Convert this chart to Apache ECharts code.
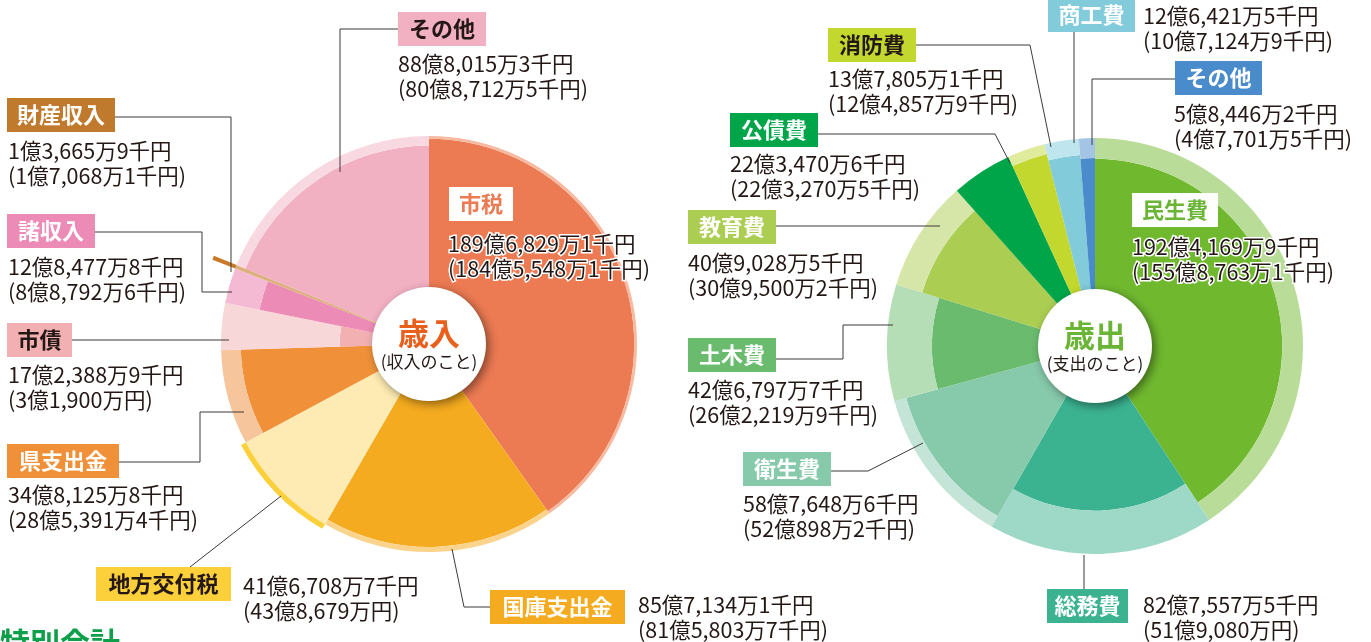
<!DOCTYPE html>
<html>
<head>
<meta charset="utf-8">
<script src="https://cdn.jsdelivr.net/npm/echarts@6/dist/echarts.min.js"></script>
<style>
html,body{margin:0;padding:0;background:#fff}
#main{width:1371px;height:642px}
</style>
</head>
<body>
<div id="main"></div>
<script>
var FONT = '"Noto Sans CJK JP", "Noto Sans", sans-serif';

// 歳入 (千円) 今年度 / 前年度
var revNames = ['市税', '国庫支出金', '地方交付税', '県支出金', '市債', '諸収入', '財産収入', 'その他'];
var revCur = [18968291, 8571341, 4167087, 3481258, 1723889, 1284778, 136659, 8880153];
var revPrev = [18455481, 8158037, 4386790, 2853914, 319000, 887926, 170681, 8087125];

// 歳出 (千円) 今年度 / 前年度
var expNames = ['民生費', '総務費', '衛生費', '土木費', '教育費', '公債費', '消防費', '商工費', 'その他'];
var expCur = [19241699, 8275575, 5876486, 4267977, 4090285, 2234706, 1378051, 1264215, 584462];
var expPrev = [15587631, 5190800, 5208982, 2622199, 3095002, 2232705, 1248579, 1071249, 477015];

// colours
var revDark = ['#ec7a53', '#f5ab1f', '#fcd03a', '#f0913a', '#f2b0b3', '#ec8bb5', '#c87a2a', '#f2b0c3'];
var revLight = ['#f6baa1', '#fad38d', '#fdebb3', '#f6c59b', '#f8d7d8', '#f4b9d3', '#dcb07a', '#f8d8e1'];
var expDark = ['#70b92f', '#3bb391', '#87c9ab', '#6abb6e', '#aacd52', '#00a54a', '#c3d82e', '#82cbda', '#4a8bcb'];
var expLight = ['#b9dd99', '#9ed8c6', '#c3e4d6', '#b5ddb6', '#d5e6a8', '#6cc08a', '#e0eb9b', '#bfe5ee', '#a4c4e6'];

// label layout
var revTags = [
  {box: [449, 187, 64], bg: '#fff', fg: '#ec7a53', val: [448, 243], halo: true},
  {box: [490, 590, 135], bg: '#f5ab1f', fg: '#fff', val: [638, 604], line: [[490, 607], [464, 607], [452, 549]]},
  {box: [96, 567, 135], bg: '#fcd03a', fg: '#231815', val: [243, 585], line: [[190, 567], [281, 496]]},
  {box: [7, 444, 112], bg: '#f0913a', fg: '#fff', val: [8, 494], line: [[119, 462], [200, 462], [200, 412], [244, 412]]},
  {box: [7, 323, 65], bg: '#f2b0b3', fg: '#231815', val: [8, 374], line: [[72, 340], [229, 340]]},
  {box: [7, 214, 88], bg: '#ec8bb5', fg: '#fff', val: [8, 266], line: [[95, 232], [202, 232], [202, 292], [232, 292]]},
  {box: [7, 98, 108], bg: '#c07a2e', fg: '#fff', val: [8, 150], line: [[115, 117], [231, 117], [231, 272]]},
  {box: [398, 12, 88], bg: '#f2b0c3', fg: '#231815', val: [398, 63], line: [[398, 29], [340, 29], [340, 172]]}
];
var expTags = [
  {box: [1132, 193, 86], bg: '#fff', fg: '#6bb536', val: [1132, 246], halo: true},
  {box: [1047, 589, 81], bg: '#3bb391', fg: '#fff', val: [1143, 604], line: [[1084, 555], [1084, 589]]},
  {box: [743, 452, 88], bg: '#87c9ab', fg: '#fff', val: [743, 503], line: [[831, 471], [868, 471], [923, 443]]},
  {box: [688, 338, 88], bg: '#6abb6e', fg: '#fff', val: [688, 389], line: [[776, 359], [843, 359], [843, 325], [893, 325]]},
  {box: [688, 210, 88], bg: '#aacd52', fg: '#fff', val: [688, 262], line: [[776, 226], [940, 226]]},
  {box: [730, 113, 88], bg: '#00a54a', fg: '#fff', val: [730, 163], line: [[818, 134], [995, 134], [1010, 163]]},
  {box: [828, 28, 88], bg: '#c3d82e', fg: '#231815', val: [828, 78], line: [[916, 45], [1030, 45], [1051, 147]]},
  {box: [1048, -2, 87], bg: '#82cbda', fg: '#fff', val: [1143, 15], line: [[1074, 32], [1074, 143]]},
  {box: [1175, 61, 87], bg: '#4a8bcb', fg: '#fff', val: [1174, 113], line: [[1175, 79], [1092, 79], [1092, 145]]}
];

function yen(v) {
  var oku = Math.floor(v / 100000), man = Math.floor(v % 100000 / 10), sen = v % 10;
  var s = oku + '億';
  if (man) s += String(man).replace(/\B(?=(\d{3})+(?!\d))/g, ',') + '万';
  if (sen) s += sen + '千';
  return s + '円';
}

// one pie per slice part, same angles (今年度), radius from sqrt(前年度/今年度)
function rings(cur, prev, dark, light, center, R) {
  var out = [];
  cur.forEach(function (v, i) {
    var k = Math.sqrt(prev[i] / v);
    var parts = k < 1
      ? [[0, R * k, dark[i]], [R * k, R, light[i]]]
      : [[0, R, light[i]], [R, R * k, dark[i]]];
    parts.forEach(function (p) {
      out.push({
        type: 'pie', center: center, radius: [p[0], p[1]],
        startAngle: 90, clockwise: true, silent: true, animation: false,
        label: {show: false}, labelLine: {show: false},
        data: cur.map(function (w, j) {
          return {value: w, itemStyle: {color: j === i ? p[2] : 'rgba(0,0,0,0)'}};
        })
      });
    });
  });
  return out;
}

function hole(center, title, sub, color) {
  return {
    type: 'pie', center: center, radius: [0, 57], silent: true, animation: false, z: 5,
    itemStyle: {color: '#fff', shadowBlur: 10, shadowColor: 'rgba(0,0,0,0.45)', shadowOffsetX: 3, shadowOffsetY: 3},
    label: {
      show: true, position: 'center',
      formatter: '{a|' + title + '}\n{b|' + sub + '}',
      rich: {
        a: {fontFamily: FONT, fontWeight: 'bold', fontSize: 31, color: color, lineHeight: 36},
        b: {fontFamily: FONT, fontSize: 17, color: '#231815', lineHeight: 22}
      }
    },
    labelLine: {show: false},
    data: [{value: 1}]
  };
}

function tags(names, cur, prev, layout) {
  var g = [];
  layout.forEach(function (t, i) {
    var b = t.box;
    if (t.line) {
      g.push({type: 'polyline', shape: {points: t.line}, style: {stroke: '#3e3a39', lineWidth: 1, fill: null}, z: 10});
    }
    g.push({type: 'rect', shape: {x: b[0], y: b[1], width: b[2], height: 34}, style: {fill: t.bg}, z: 11});
    g.push({type: 'text', x: b[0] + b[2] / 2, y: b[1] + 17, z: 12,
      style: {text: names[i], fill: t.fg, font: 'bold 22px ' + FONT, align: 'center', verticalAlign: 'middle'}});
    var txt = yen(cur[i]) + '\n(' + yen(prev[i]) + ')';
    var st = {text: txt, fill: '#231815', font: '21.5px ' + FONT, lineHeight: 25, verticalAlign: 'top'};
    if (t.halo) { st.stroke = '#fff'; st.lineWidth = 3; }
    g.push({type: 'text', x: t.val[0], y: t.val[1] - 12, z: 12, style: st});
  });
  return g;
}

var chart = echarts.init(document.getElementById('main'), null, {renderer: 'canvas'});
var series = []
  .concat(rings(revCur, revPrev, revDark, revLight, [429, 344], 208))
  .concat(rings(expCur, expPrev, expDark, expLight, [1095, 346], 208));
series.push(hole([429, 344], '歳入', '(収入のこと)', '#e8601c'));
series.push(hole([1095, 346], '歳出', '(支出のこと)', '#6bb536'));

var graphic = tags(revNames, revCur, revPrev, revTags).concat(tags(expNames, expCur, expPrev, expTags));
graphic.push({type: 'text', x: 0, y: 628, style: {text: '特別会計', fill: '#0e9f4a', font: 'bold 30px ' + FONT, verticalAlign: 'top'}});

chart.setOption({
  backgroundColor: '#fff',
  animation: false,
  series: series,
  graphic: graphic
});
</script>
</body>
</html>
